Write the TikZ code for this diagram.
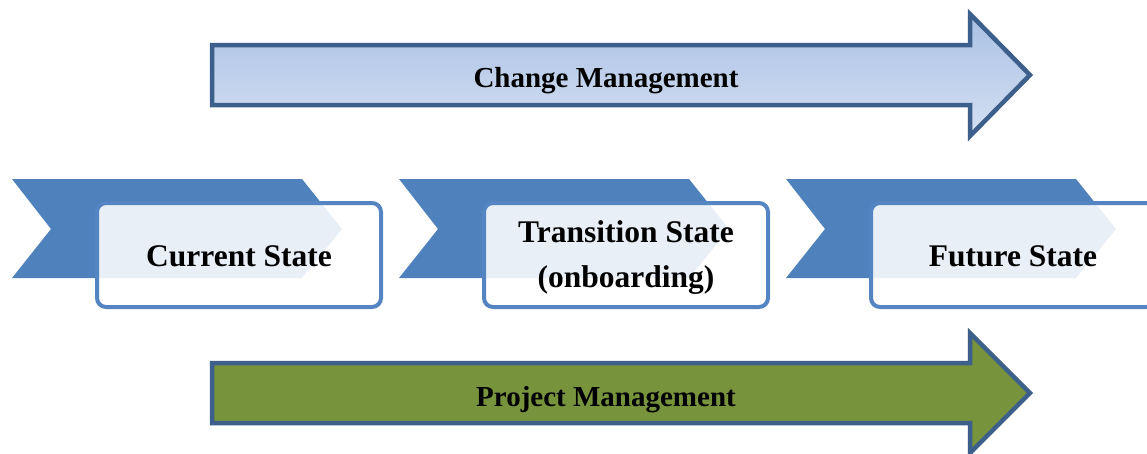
\documentclass[tikz,border=0pt]{standalone}
\usepackage{fontspec}
\setmainfont{Liberation Serif}
\definecolor{chev}{HTML}{4F81BD}
\definecolor{boxline}{HTML}{5485C2}
\definecolor{arrline}{HTML}{3D5F8C}
\definecolor{cmtop}{HTML}{A9C0E4}
\definecolor{cmbot}{HTML}{D5E0F2}
\definecolor{pmfill}{HTML}{77933C}
\tikzset{
  chevshape/.style={fill=chev, draw=none},
  statebox/.style={draw=boxline, line width=4pt, rounded corners=9pt, fill=white, fill opacity=0.88, text opacity=1,
    minimum width=284pt, minimum height=104pt, inner sep=0pt},
  statetext/.style={align=center, inner sep=0pt, font=\bfseries\fontsize{31.5}{45}\selectfont},
  bigarrow/.style={draw=arrline, line width=4.5pt, line join=miter},
  arrlabel/.style={font=\bfseries\fontsize{29}{34}\selectfont, inner sep=0pt}
}
\begin{document}
\begin{tikzpicture}[x=1pt,y=-1pt]
\useasboundingbox (0,0) rectangle (1147,453);
% top arrow
\path[bigarrow, top color=cmtop, bottom color=cmbot]
  (212,45) -- (970,45) -- (970,14) -- (1030,75) -- (970,136) -- (970,105) -- (212,105) -- cycle;
\node[arrlabel] (cm) at (606,81) {Change Management};
% bottom arrow
\path[bigarrow, fill=pmfill]
  (212,363) -- (970,363) -- (970,333) -- (1030,393) -- (970,453) -- (970,423) -- (212,423) -- cycle;
\node[arrlabel] (pm) at (606,400) {Project Management};
% chevrons and boxes
\foreach \i/\txt/\nm/\ty in {0/{Current State}/s1/256, 1/{Transition State\\(onboarding)}/s2/258, 2/{Future State}/s3/256}{
  \begin{scope}[xshift=387*\i]
    \fill[chevshape] (12,179) -- (302,179) -- (342,229) -- (302,278) -- (12,278) -- (51,229) -- cycle;
    \node[statebox] (\nm) at (239,255) {};
    \node[statetext] (\nm t) at (239,\ty) {\txt};
  \end{scope}
}
\end{tikzpicture}
\end{document}
